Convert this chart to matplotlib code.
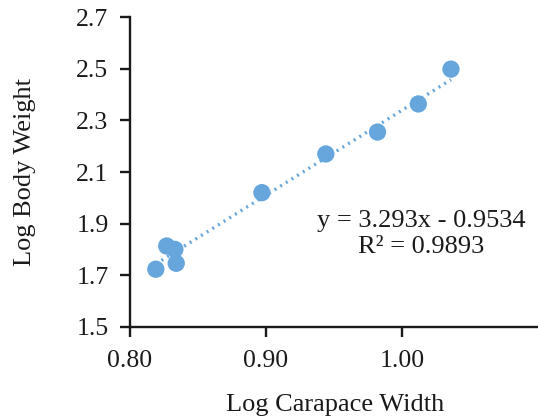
import numpy as np
from matplotlib import pyplot as plt

# log carapace width vs log body weight
log_width = [0.819, 0.827, 0.833, 0.834, 0.897, 0.944, 0.982, 1.012, 1.036]
log_weight = [1.723, 1.813, 1.800, 1.746, 2.020, 2.170, 2.255, 2.364, 2.499]

slope = 3.293
intercept = -0.9534
r_squared = 0.9893

x_ticks = [0.80, 0.90, 1.00]
y_ticks = [1.5, 1.7, 1.9, 2.1, 2.3, 2.5, 2.7]

BLUE = '#66A6DC'

plt.rcParams['font.family'] = ['Liberation Serif', 'DejaVu Serif']


def main():
	fig = plt.figure(figsize=(5.38, 4.17), dpi=100)
	ax = fig.add_axes([0.2416, 0.2165, 0.7584, 0.742])

	xs = np.array([min(log_width), max(log_width)])
	ax.plot(xs, slope * xs + intercept, linestyle=(0, (0.6, 1.4)), color=BLUE,
		linewidth=2.4, zorder=2)
	ax.scatter(log_width, log_weight, s=155, color=BLUE, edgecolors='none', zorder=3)

	ax.set_xlim(0.80, 1.10)
	ax.set_ylim(1.5, 2.7)
	ax.set_xticks(x_ticks)
	ax.set_xticklabels(['{:.2f}'.format(v) for v in x_ticks])
	ax.set_yticks(y_ticks)
	ax.set_yticklabels(['{:.1f}'.format(v) for v in y_ticks])

	for side in ['top', 'right']:
		ax.spines[side].set_visible(False)
	for side in ['left', 'bottom']:
		ax.spines[side].set_linewidth(1.7)
		ax.spines[side].set_color('#1a1a1a')
	ax.tick_params(axis='both', direction='out', length=7.5, width=1.7,
		color='#1a1a1a', labelsize=18.5, labelcolor='#1a1a1a')
	ax.tick_params(axis='x', pad=9)
	ax.tick_params(axis='y', pad=8)

	ax.text(1.0139, 1.86, 'y = {}x - {}\nR² = {}'.format(slope, -intercept, r_squared),
		ha='center', va='center', multialignment='center', fontsize=19,
		color='#1a1a1a', linespacing=1.2)

	fig.text(25 / 538, 0.587, 'Log Body Weight', rotation=90, ha='center',
		va='center', fontsize=19, color='#1a1a1a')
	fig.text(0.622, 0.002, 'Log Carapace Width', ha='center',
		va='bottom', fontsize=19, color='#1a1a1a')

	fig.savefig('out.png', dpi=100)


main()
